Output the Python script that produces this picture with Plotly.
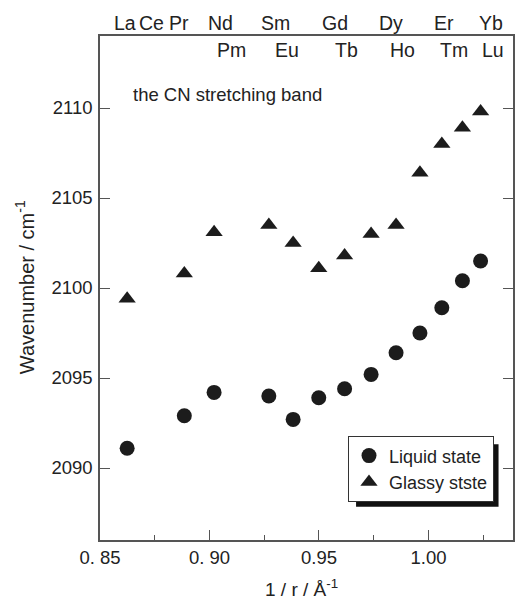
import plotly.graph_objects as go

# 1/r values (Å^-1) of the lanthanide ions
inv_r = [0.8624, 0.8885, 0.9021, 0.9271, 0.9382, 0.9499, 0.9617,
         0.9738, 0.9852, 0.9961, 1.0061, 1.0155, 1.0238]
liquid = [2091.1, 2092.9, 2094.2, 2094.0, 2092.7, 2093.9, 2094.4,
          2095.2, 2096.4, 2097.5, 2098.9, 2100.4, 2101.5]
glassy = [2099.4, 2100.8, 2103.1, 2103.5, 2102.5, 2101.1, 2101.8,
          2103.0, 2103.5, 2106.4, 2108.0, 2108.9, 2109.8]

top_row = ["La", "Ce", "Pr", "Nd", "Sm", "Gd", "Dy", "Er", "Yb"]
top_row_x = [0.8616, 0.8735, 0.8861, 0.9052, 0.9300, 0.9571, 0.9829, 1.0069, 1.0285]
bottom_row = ["Pm", "Eu", "Tb", "Ho", "Tm", "Lu"]
bottom_row_x = [0.9100, 0.9356, 0.9625, 0.9880, 1.0116, 1.0293]

x_tickvals = [0.85, 0.90, 0.95, 1.00]
x_ticktext = ["0. 85", "0. 90", "0.95", "1.00"]
y_tickvals = [2090, 2095, 2100, 2105, 2110]

FONT = "Liberation Sans, Arial, sans-serif"
INK = "#1c1c1c"
TXT = "#222222"
AX = "#555555"

fig = go.Figure()
fig.add_trace(go.Scatter(x=inv_r, y=liquid, mode="markers", name="Liquid state",
                         marker=dict(symbol="circle", size=15, color=INK)))
fig.add_trace(go.Scatter(x=inv_r, y=glassy, mode="markers", name="Glassy stste",
                         marker=dict(symbol="triangle-up", size=15, color=INK)))

ann = []
for t, x in zip(top_row, top_row_x):
    ann.append(dict(x=x, y=1.0, xref="x", yref="paper", yanchor="middle",
                    yshift=13, text=t, showarrow=False,
                    font=dict(size=19.5, color=TXT)))
for t, x in zip(bottom_row, bottom_row_x):
    ann.append(dict(x=x, y=1.0, xref="x", yref="paper", yanchor="middle",
                    yshift=-14, text=t, showarrow=False,
                    font=dict(size=19.5, color=TXT)))
ann.append(dict(x=0.0747, y=0.883, xref="paper", yref="paper", xanchor="left",
                yanchor="middle", text="the CN stretching band", showarrow=False,
                font=dict(size=18.5, color=TXT)))
ann.append(dict(x=-0.181, y=0.502, xref="paper", yref="paper", textangle=-90,
                xanchor="center", yanchor="middle",
                text="Wavenumber / cm<sup>-1</sup>", showarrow=False,
                font=dict(size=20, color=TXT)))
ann.append(dict(x=0.489, y=-0.096, xref="paper", yref="paper",
                xanchor="center", yanchor="middle",
                text="1 / r / Å<sup>-1</sup>", showarrow=False,
                font=dict(size=19, color=TXT)))

fig.update_layout(
    width=515, height=600,
    margin=dict(l=100, r=0, t=36, b=60),
    paper_bgcolor="white", plot_bgcolor="white",
    font=dict(family=FONT, color=TXT),
    showlegend=True,
    legend=dict(x=0.6, y=0.206, xanchor="left", yanchor="top",
                bgcolor="white", bordercolor="#333", borderwidth=1.2,
                font=dict(size=18, color=TXT), itemwidth=30,
                tracegroupgap=0),
    annotations=ann,
    shapes=[dict(type="rect", xref="paper", yref="paper",
                 x0=0.62, x1=0.965, y0=0.066, y1=0.19,
                 fillcolor="#111", line=dict(width=0), layer="above")],
)
fig.update_xaxes(range=[0.85, 1.0386], tickvals=x_tickvals, ticktext=x_ticktext,
                 ticks="inside", ticklen=10, tickcolor=AX, showline=True,
                 linecolor=AX, linewidth=1.5, mirror=True, showgrid=False,
                 zeroline=False, tickfont=dict(size=18.5, color=TXT),
                 minor=dict(dtick=0.025, tick0=0.85, ticks="inside", ticklen=5,
                            tickcolor=AX, showgrid=False))
fig.update_yaxes(range=[2086, 2114], tickvals=y_tickvals, ticks="inside",
                 ticklen=10, tickcolor=AX, showline=True, linecolor=AX,
                 linewidth=1.5, mirror="ticks", showgrid=False, zeroline=False,
                 ticklabelstandoff=2, tickfont=dict(size=18.5, color=TXT))

fig.write_html("out.html")
